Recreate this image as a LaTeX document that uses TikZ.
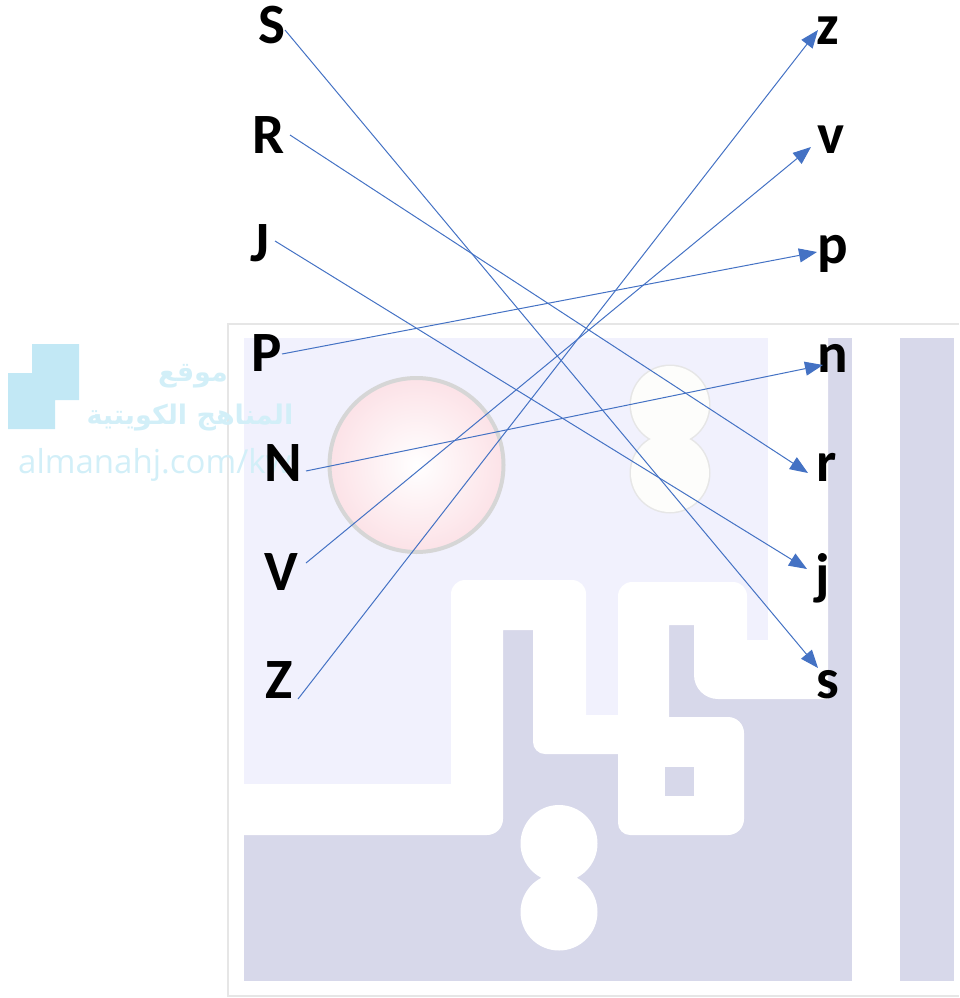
\documentclass[tikz,border=0pt]{standalone}
\usepackage{fontspec}
\usetikzlibrary{calc}
\usetikzlibrary{arrows.meta}
\TeXXeTstate=1
\newfontfamily\labfont{Carlito}[Scale=1]
\newfontfamily\wmfont{Open Sans}
\newfontfamily\arabicfont[Script=Arabic]{DejaVu Sans}
\definecolor{linkblue}{HTML}{4472C4}
\definecolor{paneldark}{HTML}{D7D8EA}
\definecolor{panellight}{HTML}{F1F1FD}
\definecolor{frameline}{HTML}{E6E6E6}
\definecolor{wmblue}{HTML}{C2E8F5}
\definecolor{wmpale}{HTML}{D2EFF8}
\definecolor{ballpink}{HTML}{FCE2E7}
\definecolor{ballrim}{HTML}{D6D6D6}
\definecolor{eightfill}{HTML}{FDFDFB}
\tikzset{
    lab/.style={inner sep=0pt, font=\labfont\bfseries\fontsize{57}{60}\selectfont},
    link/.style={-{Triangle[length=18pt,width=14pt]}, draw=linkblue, line width=1pt},
    wmtext/.style={inner sep=0pt, text=wmpale},
}
\begin{document}
\begin{tikzpicture}[x=1pt,y=-1pt]
\useasboundingbox (0,0) rectangle (959,998);

% background panel
\draw[frameline, line width=2pt] (959,324) -- (228,324) -- (228,996) -- (959,996);
\fill[paneldark] (244,338) rectangle (954,981);
\fill[panellight] (244,338) -- (768,338) -- (768,640) -- (747,640) -- (747,600) -- (618,600)
    -- (618,715) -- (585,715) -- (585,600) -- (451,600) -- (451,784) -- (244,784) -- cycle;

% white road
\fill[white, even odd rule, rounded corners=14pt]
    (244,784) [sharp corners] -- (451,784) [rounded corners=14pt] -- (451,580) -- (586,580)
    [sharp corners] -- (586,715) -- (618,715) [rounded corners=14pt] -- (618,582) -- (747,582)
    [sharp corners] -- (747,640) -- (768,640) -- (768,338) -- (828,338) -- (828,699)
    [rounded corners=24pt] -- (694,699) [sharp corners] -- (694,625) -- (669,625) -- (669,717)
    [rounded corners=16pt] -- (744,717) -- (744,835) [rounded corners=12pt] -- (618,835)
    [sharp corners] -- (618,754) [rounded corners=12pt] -- (533,754) [sharp corners] -- (533,630) -- (503,630)
    [rounded corners=16pt] -- (503,835) [sharp corners] -- (244,835) -- cycle;
\fill[paneldark] (665,767) rectangle (694,796);
\fill[white] (852,338) rectangle (900,981);
\fill[white] (559,843.5) circle[radius=38.5] (559,912) circle[radius=38.5];

% faint figure eight
\draw[frameline, line width=2pt] (670,405) circle[radius=39.5] (670,473) circle[radius=39.5];
\fill[eightfill] (670,405) circle[radius=39] (670,473) circle[radius=39];

% pink ball
\shade[inner color=white, outer color=ballpink] (416.5,465) circle[radius=87];
\draw[ballrim, line width=4pt] (416.5,465) circle[radius=87];

% watermark
\fill[wmblue] (32,344) -- (79,344) -- (79,400) -- (55,400) -- (55,429) -- (8,429) -- (8,373) -- (32,373) -- cycle;
\node[wmtext, font=\arabicfont\bfseries\fontsize{27}{30}\selectfont] (wmone) at (193,376) {\beginR موقع\endR};
\node[wmtext, font=\arabicfont\bfseries\fontsize{27}{30}\selectfont] (wmtwo) at (190,418) {\beginR المناهج الكويتية\endR};
\node[wmtext, font=\wmfont\fontsize{33}{36}\selectfont, anchor=base west] (wmurl) at (18,473) {almanahj.com/kw};

% left column
\node[lab] (lS) at (272,25) {S};
\node[lab] (lR) at (269,135) {R};
\node[lab] (lJ) at (260,243) {J};
\node[lab] (lP) at (267,353) {P};
\node[lab] (lN) at (283,463) {N};
\node[lab] (lV) at (281,572) {V};
\node[lab] (lZ) at (279,680) {Z};

% right column
\node[lab] (rz) at (828,31) {z};
\node[lab] (rv) at (831,140) {v};
\node[lab] (rp) at (833,254) {p};
\node[lab] (rn) at (833,358) {n};
\node[lab] (rr) at (827,467) {r};
\node[lab] (rj) at (823,578) {j};
\node[lab] (rs) at (828,685) {s};

\draw[link] ($(lS.center)+(13,5)$) -- ($(rs.center)+(-10,-17)$);
\draw[link] ($(lR.center)+(21,0)$) -- ($(rr.center)+(-19,6)$);
\draw[link] ($(lJ.center)+(15,-2)$) -- ($(rj.center)+(-16,-9)$);
\draw[link] ($(lP.center)+(15,1)$) -- ($(rp.center)+(-16,-2)$);
\draw[link] ($(lN.center)+(23,8)$) -- ($(rn.center)+(-10,7)$);
\draw[link] ($(lV.center)+(25,-9)$) -- ($(rv.center)+(-20,7)$);
\draw[link] ($(lZ.center)+(19,19)$) -- ($(rz.center)+(-10,-1)$);

\end{tikzpicture}
\end{document}
